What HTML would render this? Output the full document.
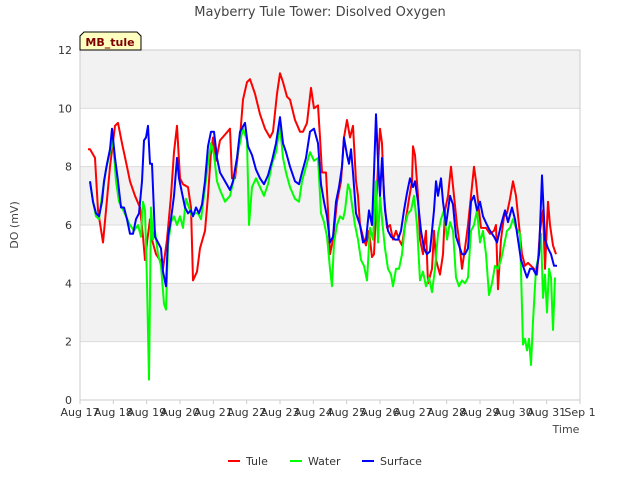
<!DOCTYPE html>
<html><head><meta charset="utf-8"><style>
body{margin:0;background:#fff;font-family:"Liberation Sans","DejaVu Sans",sans-serif}
svg text{font-family:"DejaVu Sans","Liberation Sans",sans-serif}
</style></head><body>
<svg id="chart" width="640" height="480" xmlns="http://www.w3.org/2000/svg">
<rect width="640" height="480" fill="#fff"/>
<g id="bands"></g>
<g id="grid"></g>
<rect x="80" y="50" width="500" height="350" fill="none" stroke="#ccc"/>
<g id="xt"></g><g id="yt"></g>
<g id="series"></g>
<text x="320" y="16" text-anchor="middle" font-size="13" fill="#444">Mayberry Tule Tower: Disolved Oxygen</text>
<text transform="translate(18,225) rotate(-90)" text-anchor="middle" font-size="11" fill="#444">DO (mV)</text>
<text x="566" y="433" text-anchor="middle" font-size="11" fill="#444">Time</text>
<g>
<path d="M80,50 L80,36 L84,32 L137,32 L141,36 L141,50 Z" fill="#ffffc0" stroke="#000" stroke-width="1"/>
<text x="110" y="46" text-anchor="middle" font-size="11" font-weight="bold" fill="#800000">MB_tule</text>
</g>
<g id="legend"></g>
</svg>
<script>
const xTickLabels=["Aug 17","Aug 18","Aug 19","Aug 20","Aug 21","Aug 22","Aug 23","Aug 24","Aug 25","Aug 26","Aug 27","Aug 28","Aug 29","Aug 30","Aug 31","Sep 1"];
const yTicks=[0,2,4,6,8,10,12];
const tuleT=[0.24,0.30,0.45,0.54,0.69,0.78,0.90,1.05,1.14,1.26,1.41,1.50,1.65,1.80,1.89,1.95,2.01,2.10,2.16,2.28,2.40,2.49,2.61,2.73,2.82,2.91,3.00,3.09,3.24,3.33,3.39,3.51,3.60,3.75,3.84,3.93,3.99,4.08,4.20,4.35,4.50,4.56,4.65,4.80,4.89,5.01,5.10,5.25,5.40,5.55,5.70,5.79,5.91,6.00,6.09,6.21,6.30,6.45,6.60,6.69,6.81,6.93,7.02,7.14,7.20,7.26,7.38,7.44,7.50,7.59,7.71,7.83,7.92,8.01,8.10,8.19,8.28,8.34,8.40,8.49,8.58,8.67,8.76,8.82,8.94,9.00,9.06,9.12,9.21,9.30,9.39,9.48,9.57,9.66,9.75,9.87,9.96,9.99,10.05,10.14,10.20,10.29,10.38,10.44,10.56,10.62,10.68,10.80,10.89,10.95,11.04,11.13,11.22,11.31,11.37,11.46,11.55,11.64,11.73,11.82,11.88,11.97,12.03,12.18,12.30,12.42,12.48,12.54,12.63,12.72,12.81,12.90,12.99,13.08,13.17,13.26,13.35,13.44,13.53,13.62,13.71,13.80,13.89,13.95,14.04,14.10,14.19,14.28];
const tuleV=[8.6,8.6,8.3,6.5,5.4,6.5,8.0,9.4,9.5,8.8,8.0,7.5,7.0,6.6,5.6,4.8,5.4,6.2,5.5,5.0,4.8,4.5,5.5,7.0,8.5,9.4,7.6,7.4,7.3,6.6,4.1,4.4,5.2,5.8,7.0,8.5,9.0,8.2,8.9,9.1,9.3,7.6,7.6,9.0,10.3,10.9,11.0,10.5,9.8,9.3,9.0,9.2,10.5,11.2,10.9,10.4,10.3,9.6,9.2,9.2,9.5,10.7,10.0,10.1,9.0,7.8,7.8,6.5,5.0,5.5,6.8,7.5,9.0,9.6,9.0,9.4,7.5,7.0,6.0,5.6,5.3,5.8,4.9,5.0,8.0,9.3,8.8,7.0,5.9,6.0,5.5,5.8,5.5,5.3,6.0,6.9,7.5,8.7,8.4,7.0,5.5,5.0,5.8,4.0,4.5,5.8,4.8,4.3,5.0,6.5,7.0,8.0,7.0,6.0,5.5,4.5,5.2,6.0,7.0,8.0,7.5,6.5,5.9,5.9,5.7,5.8,6.0,3.8,5.5,6.3,6.4,6.9,7.5,7.0,6.0,5.0,4.6,4.7,4.6,4.5,4.3,5.8,6.5,4.5,6.8,6.0,5.3,5.0];
const waterT=[0.30,0.39,0.48,0.57,0.66,0.78,0.90,0.99,1.08,1.17,1.26,1.38,1.50,1.62,1.74,1.83,1.89,1.95,2.01,2.07,2.13,2.19,2.25,2.34,2.43,2.52,2.58,2.64,2.73,2.82,2.91,3.00,3.09,3.18,3.27,3.36,3.45,3.54,3.63,3.72,3.84,3.93,4.02,4.11,4.20,4.35,4.50,4.62,4.74,4.89,5.01,5.07,5.16,5.28,5.40,5.52,5.64,5.76,5.88,6.00,6.09,6.18,6.30,6.45,6.57,6.66,6.78,6.90,7.02,7.14,7.23,7.32,7.41,7.50,7.56,7.62,7.71,7.80,7.89,7.95,8.04,8.10,8.16,8.25,8.34,8.43,8.52,8.61,8.70,8.79,8.88,8.94,9.00,9.06,9.15,9.24,9.33,9.39,9.48,9.57,9.66,9.75,9.84,9.93,10.02,10.11,10.20,10.29,10.38,10.47,10.56,10.65,10.74,10.83,10.92,11.01,11.10,11.19,11.28,11.37,11.46,11.55,11.64,11.73,11.82,11.91,12.00,12.09,12.18,12.27,12.36,12.45,12.54,12.63,12.72,12.81,12.90,12.99,13.08,13.20,13.29,13.35,13.41,13.47,13.53,13.59,13.68,13.77,13.83,13.89,13.95,14.01,14.07,14.13,14.19,14.25];
const waterV=[7.5,6.8,6.3,6.2,7.0,7.9,8.5,8.9,7.5,6.8,6.6,6.3,6.0,5.8,6.0,5.6,6.8,6.5,4.0,0.7,6.6,5.5,5.8,5.0,4.6,3.3,3.1,5.3,6.1,6.3,6.0,6.3,5.9,6.9,6.6,6.3,6.4,6.4,6.2,7.0,8.1,8.8,8.4,7.5,7.2,6.8,7.0,7.6,8.5,9.3,8.9,6.0,7.3,7.6,7.3,7.0,7.4,8.1,8.5,9.4,8.3,7.8,7.3,6.9,6.8,7.5,8.0,8.5,8.2,8.3,6.4,6.1,5.6,4.5,3.9,5.4,6.0,6.3,6.2,6.5,7.4,7.2,6.7,6.0,5.5,4.8,4.6,4.1,5.9,5.5,7.5,5.4,7.0,6.2,5.2,4.5,4.3,3.9,4.5,4.5,5.0,6.0,6.4,6.5,7.0,6.0,4.1,4.4,3.9,4.2,3.7,4.5,5.7,6.2,6.5,5.5,6.1,5.8,4.2,3.9,4.1,4.0,4.2,5.8,6.0,6.5,5.4,5.8,5.0,3.6,4.0,4.6,4.5,4.8,5.3,5.8,5.9,6.2,5.9,5.7,1.9,2.1,1.7,2.1,1.2,2.7,4.5,5.0,5.7,3.5,4.3,3.0,4.5,4.2,2.4,4.2];
const surfT=[0.30,0.39,0.48,0.57,0.66,0.72,0.81,0.90,0.96,1.05,1.14,1.23,1.32,1.41,1.50,1.59,1.68,1.77,1.86,1.92,1.98,2.04,2.10,2.16,2.25,2.34,2.43,2.49,2.58,2.64,2.73,2.82,2.91,2.97,3.06,3.15,3.24,3.33,3.39,3.48,3.57,3.66,3.75,3.84,3.93,4.02,4.11,4.20,4.35,4.50,4.59,4.71,4.80,4.95,5.04,5.16,5.28,5.40,5.52,5.64,5.76,5.88,6.00,6.09,6.18,6.30,6.45,6.57,6.66,6.78,6.90,7.02,7.14,7.23,7.32,7.41,7.50,7.59,7.68,7.77,7.86,7.92,8.01,8.07,8.13,8.19,8.28,8.40,8.49,8.58,8.67,8.76,8.82,8.88,8.94,9.00,9.06,9.15,9.24,9.33,9.45,9.54,9.63,9.72,9.81,9.90,9.99,10.05,10.14,10.23,10.32,10.41,10.50,10.62,10.68,10.74,10.83,10.89,10.98,11.10,11.19,11.28,11.37,11.46,11.55,11.64,11.73,11.82,11.91,12.00,12.09,12.21,12.30,12.42,12.51,12.63,12.75,12.84,12.96,13.05,13.14,13.23,13.32,13.41,13.50,13.59,13.68,13.77,13.86,13.95,14.04,14.13,14.22,14.31];
const surfV=[7.5,6.8,6.4,6.3,6.8,7.5,8.1,8.6,9.3,8.3,7.5,6.6,6.6,6.2,5.7,5.7,6.2,6.4,7.5,8.9,9.0,9.4,8.1,8.1,5.6,5.4,5.2,4.4,3.9,5.6,6.2,7.0,8.3,7.6,7.1,6.6,6.4,6.5,6.3,6.6,6.4,6.7,7.5,8.7,9.2,9.2,8.3,7.8,7.5,7.2,7.5,8.3,9.2,9.5,8.7,8.4,7.9,7.6,7.4,7.7,8.2,8.8,9.7,8.8,8.5,8.0,7.5,7.4,7.8,8.3,9.2,9.3,8.8,7.4,6.8,6.3,5.4,5.6,6.8,7.3,8.0,9.0,8.4,8.1,8.6,7.8,6.4,6.0,5.4,5.5,6.5,6.0,7.8,9.8,8.2,7.0,8.3,6.5,5.8,5.6,5.5,5.5,5.8,6.5,7.1,7.6,7.3,7.5,6.8,5.8,5.2,5.0,5.1,6.5,7.5,7.0,7.6,6.8,6.0,7.0,6.7,5.6,5.3,5.0,5.0,5.2,6.8,7.0,6.5,6.8,6.3,6.0,5.8,5.6,5.4,6.0,6.5,6.1,6.6,6.2,5.5,4.8,4.5,4.2,4.5,4.5,4.3,5.0,7.7,5.5,5.2,5.0,4.6,4.6];
const seriesNames=["Tule","Water","Surface"];
const seriesColors=["#ff0000","#00ff00","#0000ff"];

const X0=80,X1=580,Y0=400,Y1=50;
const xScale=d=>X0+(X1-X0)*d/15;
const yScale=v=>Y0-(Y0-Y1)*v/12;
const NS="http://www.w3.org/2000/svg";
function mk(tag,attrs,parent){const e=document.createElementNS(NS,tag);for(const k in attrs)e.setAttribute(k,attrs[k]);parent.appendChild(e);return e;}
const bands=document.getElementById('bands'),grid=document.getElementById('grid'),xt=document.getElementById('xt'),yt=document.getElementById('yt');
for(let i=0;i<yTicks.length-1;i+=2){
  const r=mk('rect',{x:X0,y:yScale(yTicks[i+2]!==undefined?yTicks[i+2]:12),width:X1-X0,height:yScale(yTicks[i+1])-yScale(yTicks[i+2]!==undefined?yTicks[i+2]:12),fill:'#f2f2f2'},bands);
  
  
}
yTicks.forEach(v=>{
  const l=mk('line',{x1:X0,x2:X1,y1:yScale(v),y2:yScale(v),stroke:'#dcdcdc'},grid);
  
  
  const t=mk('text',{x:X0-8,y:yScale(v)+4,'text-anchor':'end','font-size':'11',fill:'#333'},yt);
  t.textContent=v;
  
  
});
xTickLabels.forEach((s,i)=>{
  const t=mk('text',{x:xScale(i),y:416,'text-anchor':'middle','font-size':'11',fill:'#333'},xt);
  t.textContent=s;
  
  
  const tk=mk('line',{x1:xScale(i),x2:xScale(i),y1:Y0,y2:Y0+4,stroke:'#ccc'},xt);
  
  
});
const sg=document.getElementById('series');
[[tuleT,tuleV],[waterT,waterV],[surfT,surfV]].forEach((s,k)=>{
  const d=s[0].map((t,i)=>(i?'L':'M')+xScale(t).toFixed(1)+','+yScale(s[1][i]).toFixed(1)).join('');
  const p=mk('path',{d:d,fill:'none',stroke:seriesColors[k],'stroke-width':'2','stroke-linejoin':'round'},sg);
  
  
});
const lg=document.getElementById('legend');
const lx=[228,290,362];
seriesNames.forEach((n,k)=>{
  const g=mk('g',{},lg);
  
  
  mk('line',{x1:lx[k],x2:lx[k]+12,y1:461,y2:461,stroke:seriesColors[k],'stroke-width':'2'},g);
  const t=mk('text',{x:lx[k]+18,y:465,'font-size':'11',fill:'#333'},g);
  t.textContent=n;
});
</script>
</body></html>
